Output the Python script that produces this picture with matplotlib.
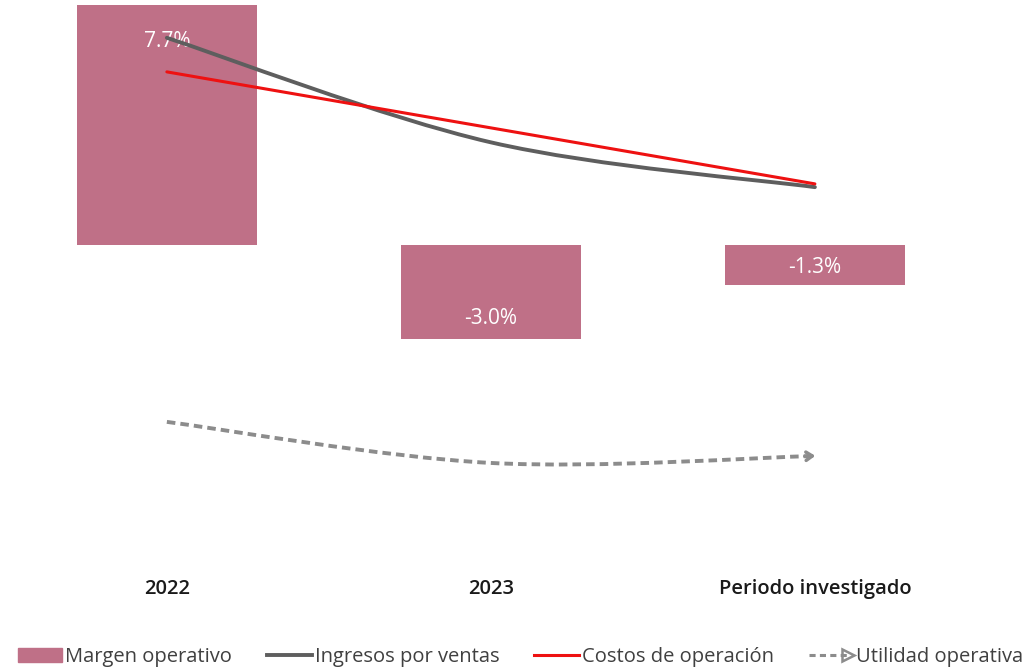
import matplotlib.pyplot as plt
import matplotlib.patches as patches
from matplotlib.path import Path
from matplotlib.lines import Line2D
from matplotlib.legend_handler import HandlerLine2D

plt.rcParams["font.family"] = ["Open Sans", "DejaVu Sans"]

categories = ["2022", "2023", "Periodo investigado"]
margen = [7.7, -3.0, -1.3]          # % (left axis)
ingresos = [111.9, 89.5, 79.9]      # index (right axis, hidden)
costos = [104.6, 92.6, 80.6]
utilidad = [29.6, 20.8, 22.3]

bar_color = "#BF7087"
grey = "#5E5E5E"
red = "#EE1111"
dash_grey = "#8C8C8C"


def smooth_path(xs, ys):
    # Catmull-Rom through the points, as cubic Bezier segments
    pts = list(zip(xs, ys))
    ext = [pts[0]] + pts + [pts[-1]]
    verts = [pts[0]]
    codes = [Path.MOVETO]
    for i in range(1, len(ext) - 2):
        p0, p1, p2, p3 = ext[i - 1], ext[i], ext[i + 1], ext[i + 2]
        c1 = (p1[0] + (p2[0] - p0[0]) / 6, p1[1] + (p2[1] - p0[1]) / 6)
        c2 = (p2[0] - (p3[0] - p1[0]) / 6, p2[1] - (p3[1] - p1[1]) / 6)
        verts += [c1, c2, p2]
        codes += [Path.CURVE4] * 3
    return Path(verts, codes)


fig = plt.figure(figsize=(10.31, 6.71), dpi=100)
ax = fig.add_axes([0, 0.1654, 1, 0.8346])
x = list(range(len(categories)))

ax.bar(x, margen, width=0.555, color=bar_color, zorder=1)
ax.set_xlim(-0.515, 2.667)
ax.set_ylim(-10.1, 7.85)
for s in ax.spines.values():
    s.set_visible(False)
ax.set_yticks([])
ax.set_xticks([])

offsets = [-26, 10, 7]
for xi, v, off in zip(x, margen, offsets):
    ax.annotate(f"{v:.1f}%", (xi, v), xytext=(0, off), textcoords="offset pixels",
                ha="center", va="top" if v > 0 else "bottom",
                color="white", fontsize=15, zorder=5)

for xi, c in zip(x, categories):
    ax.annotate(c, (xi, 0), xycoords=("data", "figure pixels"),
                xytext=(xi, 82), textcoords=("data", "figure pixels"),
                ha="center", va="center", fontsize=14.5, fontweight="semibold",
                color="#1a1a1a")

ax2 = ax.twinx()
ax2.set_ylim(0, 120)
ax2.set_yticks([])
for s in ax2.spines.values():
    s.set_visible(False)

ax2.add_patch(patches.PathPatch(smooth_path(x, ingresos), fill=False,
                                edgecolor=grey, lw=2.8, capstyle="round", zorder=3))
ax2.add_patch(patches.PathPatch(smooth_path(x, costos), fill=False,
                                edgecolor=red, lw=2.2, capstyle="round", zorder=4))
ax2.add_patch(patches.PathPatch(smooth_path(x, utilidad), fill=False,
                                edgecolor=dash_grey, lw=2.8, linestyle=(0, (2.2, 1.3)),
                                zorder=3))
ax2.annotate("", xy=(x[-1] + 0.01, utilidad[-1] + 0.05),
             xytext=(x[-1] - 0.04, utilidad[-1] - 0.1),
             arrowprops=dict(arrowstyle="->,head_length=0.45,head_width=0.3",
                             color=dash_grey, lw=2.5))


class ArrowLineHandler(HandlerLine2D):
    def create_artists(self, legend, orig_handle, xdescent, ydescent, width,
                       height, fontsize, trans):
        y = height / 2 - ydescent
        line = Line2D([-xdescent, width - xdescent - 4], [y, y], color=dash_grey,
                      lw=2.2, linestyle=(0, (2, 1.4)), transform=trans)
        head = Line2D([width - xdescent - 4], [y], marker=">", markersize=8,
                      color=dash_grey, transform=trans, markerfacecolor="none",
                      markeredgewidth=1.8)
        return [line, head]


handles = [
    patches.Patch(color=bar_color),
    Line2D([], [], color=grey, lw=2.8),
    Line2D([], [], color=red, lw=2.2),
    Line2D([], [], color=dash_grey),
]
labels = ["Margen operativo", "Ingresos por ventas", "Costos de operación",
          "Utilidad operativa"]
fig.legend(handles, labels, loc="center", bbox_to_anchor=(0.505, 0.021), ncol=4,
           frameon=False, fontsize=14.5, handlelength=2.2, handletextpad=0.15,
           columnspacing=1.75, labelcolor="#404040",
           handler_map={handles[3]: ArrowLineHandler()})

fig.savefig("out.png", dpi=100)
